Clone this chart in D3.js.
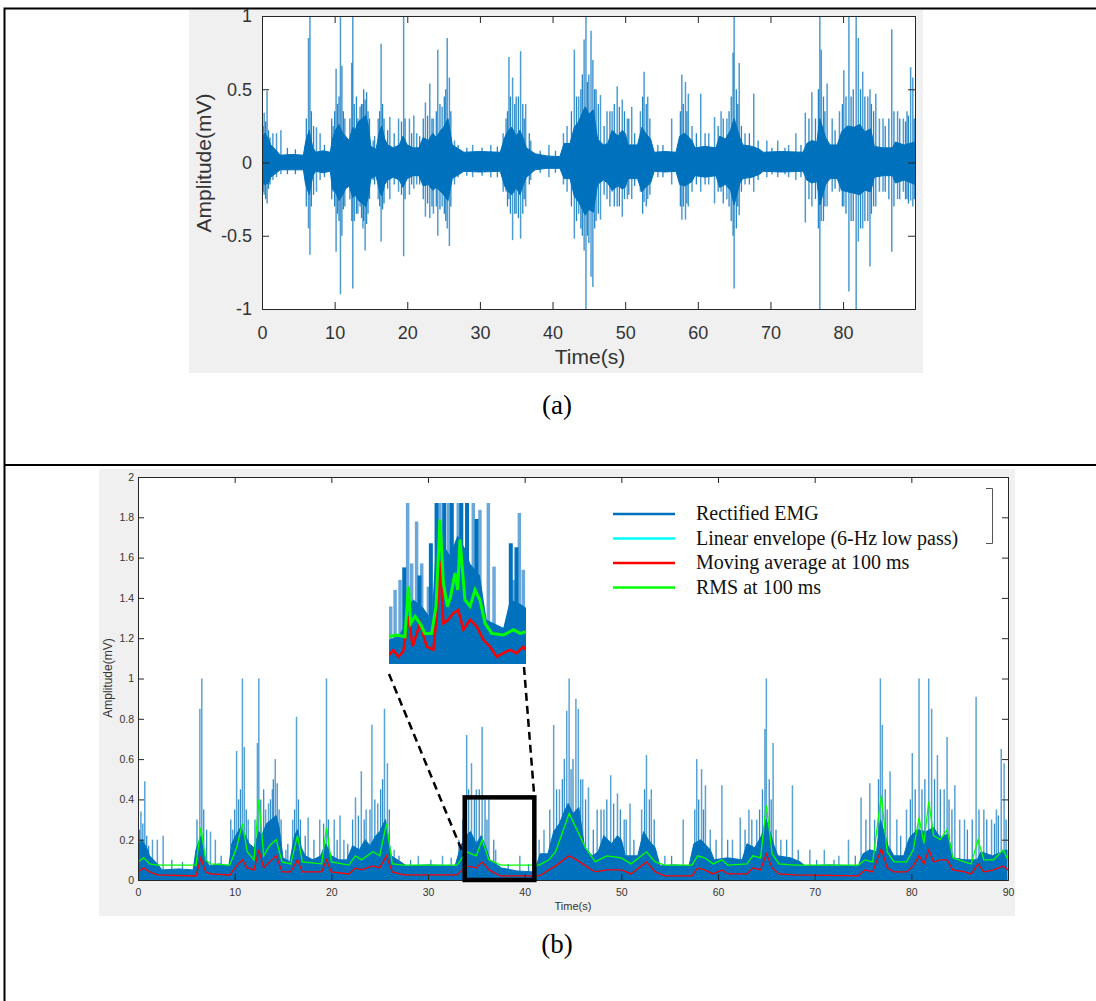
<!DOCTYPE html>
<html>
<head>
<meta charset="utf-8">
<script src="https://cdn.jsdelivr.net/npm/d3@7"></script>
<style>
body { margin: 0; background: #fff; }
</style>
</head>
<body>
<svg id="fig" width="1096" height="1001"></svg>
<script>
// ---- data ----
// (a) raw EMG: tall spikes [time s, positive peak, negative peak] (mV)
const spikesA = [
  [0.3,0.34,-0.22],[0.7,0.49,-0.28],[1.5,0.2,-0.12],[2.0,0.2,-0.1],[2.6,0.22,-0.08],
  [6.4,0.85,-0.45],[6.6,1.0,-0.63],[7.5,0.24,-0.2],[8.0,0.2,-0.12],[9.8,0.25,-0.2],
  [10.2,0.64,-0.61],[10.8,1.0,-0.9],[11.0,0.66,-0.5],[11.4,0.3,-0.3],[12.35,0.68,-0.4],
  [12.5,1.0,-0.86],[13.2,0.3,-0.35],[13.5,0.38,-0.3],[13.9,0.4,-0.45],[14.2,0.43,-0.6],
  [14.6,0.35,-0.35],[15.3,0.15,-0.12],[16.0,0.3,-0.25],[16.4,0.81,-0.54],[17.6,0.31,-0.25],
  [18.8,0.3,-0.2],[19.5,1.0,-0.64],[20.3,0.3,-0.22],[20.9,0.32,-0.18],[21.3,0.2,-0.15],
  [22.5,0.41,-0.37],[23.1,0.54,-0.38],[23.6,0.3,-0.35],[24.2,0.77,-0.5],[24.8,0.38,-0.3],
  [25.5,0.85,-0.45],[25.8,0.58,-0.57],[26.5,0.15,-0.15],[29.0,0.12,-0.1],[31.5,0.12,-0.1],
  [33.2,0.2,-0.2],[33.6,0.3,-0.2],[34.0,0.72,-0.25],[34.5,0.58,-0.53],[35.0,0.45,-0.35],
  [35.6,0.76,-0.52],[36.3,0.4,-0.3],[37.0,0.15,-0.12],[39.5,0.12,-0.1],[41.5,0.2,-0.15],
  [42.0,0.25,-0.2],[43.0,0.77,-0.52],[43.6,0.45,-0.35],[44.35,0.84,-0.6],[44.6,1.0,-1.0],
  [45.3,0.9,-0.78],[45.55,0.7,-0.85],[46.0,0.5,-0.4],[46.6,0.46,-0.39],[47.5,0.35,-0.25],
  [48.2,0.35,-0.2],[48.9,0.52,-0.3],[49.6,0.43,-0.37],[50.3,0.3,-0.25],[50.9,0.38,-0.25],
  [52.1,0.35,-0.2],[52.6,0.62,-0.27],[53.1,0.45,-0.25],[54.5,0.12,-0.1],[56.4,0.3,-0.15],
  [57.8,0.6,-0.39],[58.3,0.55,-0.39],[58.7,0.47,-0.3],[59.2,0.25,-0.2],[60.4,0.47,-0.2],
  [61.5,0.2,-0.15],[62.3,0.31,-0.28],[63.2,0.35,-0.2],[64.0,0.3,-0.25],[64.85,0.75,-0.5],
  [65.0,1.0,-0.86],[65.7,0.68,-0.36],[66.5,0.2,-0.15],[67.7,0.47,-0.2],[69.5,0.15,-0.1],
  [71.0,0.15,-0.1],[72.5,0.12,-0.1],[73.5,0.2,-0.12],[74.8,0.34,-0.41],[75.7,0.48,-0.3],
  [76.8,1.0,-1.0],[77.0,0.77,-0.4],[77.8,0.54,-0.3],[78.5,0.3,-0.2],[79.5,0.35,-0.2],
  [80.1,0.63,-0.3],[80.8,1.0,-0.88],[81.8,1.0,-1.0],[82.1,0.85,-0.54],[82.7,0.62,-0.45],
  [83.4,0.45,-0.4],[83.7,0.5,-0.71],[84.5,0.47,-0.3],[85.0,0.3,-0.2],[85.5,0.3,-0.2],
  [86.7,0.91,-0.61],[87.5,0.35,-0.25],[88.3,0.3,-0.2],[88.8,0.35,-0.25],[89.3,0.65,-0.26],
  [89.6,0.58,-0.3]
];

// (a) shorter spikes that fray the edge of each burst [time s, positive, negative] (mV)
const minorSpikesA = [
  [0.15,0.25,-0.2],[0.5,0.28,-0.25],[0.9,0.22,-0.18],[1.1,0.17,-0.15],[3.5,0.1,-0.08],[4.6,0.09,-0.08],
  [6.1,0.3,-0.3],[6.8,0.35,-0.3],[7.1,0.25,-0.22],[8.6,0.12,-0.1],
  [9.6,0.3,-0.25],[10.0,0.35,-0.3],[10.4,0.4,-0.35],[10.6,0.45,-0.4],[11.2,0.35,-0.32],
  [12.1,0.3,-0.25],[12.7,0.4,-0.4],[13.0,0.45,-0.35],[13.7,0.4,-0.38],[14.0,0.5,-0.4],
  [14.4,0.48,-0.42],[14.8,0.3,-0.25],[15.5,0.18,-0.15],
  [16.2,0.35,-0.3],[16.6,0.4,-0.32],[16.8,0.3,-0.28],[17.3,0.22,-0.18],[18.2,0.2,-0.15],
  [19.2,0.28,-0.22],[19.7,0.3,-0.25],[20.6,0.2,-0.15],[21.7,0.18,-0.15],
  [22.2,0.3,-0.25],[22.8,0.32,-0.28],[23.4,0.3,-0.3],[24.0,0.35,-0.3],[24.5,0.4,-0.32],
  [25.1,0.45,-0.35],[25.3,0.5,-0.4],[26.0,0.35,-0.3],[27.0,0.12,-0.1],[28.2,0.1,-0.09],
  [30.3,0.1,-0.09],[32.4,0.11,-0.1],
  [33.8,0.35,-0.3],[34.2,0.45,-0.35],[34.8,0.4,-0.35],[35.3,0.45,-0.38],[35.9,0.4,-0.35],
  [36.1,0.3,-0.25],[36.8,0.2,-0.15],[38.3,0.08,-0.07],[40.4,0.08,-0.07],
  [42.6,0.35,-0.3],[43.3,0.45,-0.4],[43.9,0.5,-0.45],[44.1,0.6,-0.5],[44.8,0.55,-0.5],
  [45.0,0.6,-0.55],[45.8,0.5,-0.45],[46.3,0.4,-0.35],[47.1,0.25,-0.22],
  [47.9,0.35,-0.3],[48.5,0.4,-0.3],[49.2,0.38,-0.3],[49.9,0.35,-0.25],[50.5,0.3,-0.22],
  [51.3,0.2,-0.16],[52.4,0.45,-0.35],[52.9,0.4,-0.3],[53.4,0.3,-0.22],[55.2,0.12,-0.1],
  [57.6,0.35,-0.3],[58.0,0.4,-0.3],[58.5,0.35,-0.28],[59.8,0.2,-0.15],[61.0,0.2,-0.15],
  [62.8,0.25,-0.2],[63.5,0.3,-0.28],[64.3,0.35,-0.3],[64.6,0.45,-0.4],[65.3,0.5,-0.45],
  [65.5,0.4,-0.3],[66.0,0.25,-0.2],[67.1,0.2,-0.15],[68.3,0.15,-0.12],[70.2,0.1,-0.08],
  [72.0,0.1,-0.08],[74.2,0.12,-0.1],
  [75.3,0.3,-0.25],[76.2,0.3,-0.25],[76.6,0.5,-0.45],[77.3,0.45,-0.4],[77.5,0.35,-0.3],
  [78.9,0.22,-0.18],[79.9,0.4,-0.3],[80.4,0.45,-0.35],[81.1,0.45,-0.4],[81.4,0.5,-0.4],
  [82.4,0.5,-0.45],[83.0,0.45,-0.4],[83.9,0.4,-0.35],[84.2,0.35,-0.3],
  [85.8,0.25,-0.2],[86.3,0.3,-0.25],[87.0,0.35,-0.3],[87.8,0.3,-0.25],[88.6,0.28,-0.25],
  [89.0,0.32,-0.28],[89.8,0.3,-0.25]
];

// (a) dense core of the raw EMG [time s, upper edge, lower edge magnitude] (mV)
const coreA = [
  [0,0.17,0.14],[0.4,0.2,0.15],[0.9,0.16,0.14],[1.2,0.12,0.1],[2.0,0.08,0.07],[2.5,0.05,0.05],
  [4.2,0.055,0.05],[5.7,0.05,0.05],[6.0,0.14,0.15],[6.5,0.22,0.22],[7.0,0.1,0.09],[7.4,0.07,0.06],
  [8.4,0.08,0.07],[9.4,0.07,0.06],[9.7,0.16,0.18],[10.1,0.22,0.2],[10.6,0.26,0.26],[11.1,0.2,0.22],
  [11.5,0.18,0.18],[12.0,0.15,0.16],[12.5,0.24,0.24],[12.8,0.22,0.22],[13.3,0.28,0.26],
  [13.8,0.3,0.28],[14.3,0.32,0.3],[14.6,0.26,0.24],[15.0,0.11,0.11],[15.7,0.09,0.09],
  [16.2,0.22,0.2],[16.5,0.25,0.23],[16.9,0.16,0.15],[17.3,0.12,0.12],[18.1,0.1,0.1],[18.9,0.12,0.12],
  [19.4,0.18,0.17],[20.0,0.12,0.11],[20.8,0.1,0.09],[21.6,0.1,0.09],[22.2,0.17,0.16],[22.9,0.15,0.15],
  [23.5,0.2,0.19],[24.0,0.17,0.17],[24.6,0.22,0.2],[25.0,0.24,0.22],[25.6,0.3,0.26],[26.2,0.12,0.11],
  [27.8,0.07,0.06],[30.0,0.075,0.065],[32.8,0.07,0.06],[33.4,0.17,0.16],[33.9,0.22,0.2],
  [34.4,0.24,0.22],[35.0,0.18,0.17],[35.5,0.22,0.22],[36.0,0.16,0.15],[36.4,0.1,0.1],[37.6,0.06,0.05],
  [39.2,0.045,0.04],[41.0,0.04,0.04],[41.6,0.13,0.11],[42.4,0.13,0.11],[43.0,0.24,0.23],
  [43.6,0.28,0.27],[44.1,0.34,0.32],[44.5,0.38,0.36],[45.0,0.33,0.32],[45.6,0.36,0.34],[46.2,0.16,0.15],
  [47.0,0.12,0.12],[47.6,0.13,0.14],[48.2,0.22,0.19],[49.0,0.18,0.16],[49.6,0.22,0.18],[50.0,0.2,0.17],
  [50.4,0.12,0.11],[51.7,0.12,0.11],[52.3,0.24,0.2],[52.8,0.2,0.17],[53.5,0.16,0.14],[54.0,0.07,0.06],
  [55.5,0.075,0.065],[57.0,0.07,0.06],[57.5,0.18,0.15],[58.2,0.2,0.16],[59.2,0.15,0.13],
  [59.6,0.1,0.09],[61.0,0.11,0.1],[62.5,0.1,0.09],[63.0,0.18,0.17],[63.8,0.16,0.15],[64.5,0.22,0.19],
  [65.0,0.3,0.29],[65.8,0.17,0.14],[66.2,0.12,0.11],[67.5,0.11,0.1],[68.5,0.09,0.08],[69.0,0.07,0.06],
  [71.5,0.075,0.065],[74.5,0.07,0.06],[75.0,0.13,0.12],[75.7,0.15,0.14],[76.4,0.14,0.13],
  [76.8,0.3,0.29],[77.6,0.17,0.15],[78.2,0.12,0.11],[79.2,0.12,0.11],[79.8,0.21,0.19],
  [80.6,0.25,0.2],[81.5,0.24,0.21],[82.3,0.26,0.22],[83.0,0.21,0.19],[83.8,0.23,0.2],[84.3,0.11,0.1],
  [85.5,0.1,0.09],[86.8,0.1,0.09],[87.2,0.14,0.14],[88.4,0.12,0.12],[89.9,0.14,0.15]
];

// (b) smoothed curves [time s, moving average, RMS] (mV)
const smoothB = [
  [0,0.04,0.09],[0.6,0.06,0.11],[1.2,0.04,0.08],[2.0,0.025,0.074],[6.0,0.02,0.074],[6.5,0.11,0.26],
  [7.0,0.04,0.1],[7.5,0.03,0.08],[9.5,0.025,0.074],[10.2,0.07,0.16],[10.8,0.1,0.28],[11.3,0.06,0.14],
  [12.0,0.05,0.1],[12.5,0.15,0.4],[13.0,0.06,0.12],[13.6,0.09,0.17],[14.3,0.12,0.2],[14.9,0.04,0.09],
  [15.8,0.04,0.08],[16.5,0.1,0.22],[17.0,0.04,0.09],[19.0,0.04,0.08],[19.5,0.1,0.26],[20.0,0.04,0.09],
  [21.8,0.03,0.074],[22.5,0.06,0.12],[23.1,0.05,0.1],[24.3,0.07,0.14],[25.0,0.06,0.12],[25.7,0.12,0.28],
  [26.3,0.04,0.08],[27.5,0.025,0.074],[33.0,0.025,0.074],[34.0,0.07,0.14],[35.0,0.06,0.12],[35.6,0.09,0.2],
  [36.3,0.05,0.1],[37.5,0.02,0.074],[41.5,0.02,0.074],[42.5,0.05,0.1],[43.2,0.07,0.14],[44.6,0.12,0.33],
  [45.4,0.1,0.25],[46.3,0.07,0.16],[47.3,0.04,0.09],[48.5,0.05,0.12],[50.0,0.05,0.11],[51.0,0.03,0.08],
  [52.6,0.09,0.14],[53.5,0.04,0.09],[54.5,0.02,0.074],[57.3,0.02,0.074],[57.9,0.06,0.12],[58.6,0.05,0.11],
  [59.5,0.03,0.08],[60.4,0.05,0.1],[61.0,0.03,0.074],[63.0,0.03,0.08],[63.6,0.06,0.12],[64.4,0.05,0.11],
  [65.0,0.13,0.37],[65.6,0.06,0.13],[66.3,0.03,0.08],[68.0,0.025,0.074],[74.5,0.02,0.074],[75.2,0.05,0.1],
  [76.0,0.04,0.09],[76.9,0.155,0.42],[77.5,0.06,0.14],[78.2,0.04,0.09],[79.5,0.04,0.09],[80.2,0.07,0.15],
  [80.8,0.12,0.31],[81.3,0.08,0.18],[81.8,0.15,0.39],[82.3,0.09,0.22],[83.0,0.1,0.2],[83.7,0.1,0.25],
  [84.3,0.05,0.11],[85.5,0.04,0.09],[86.2,0.03,0.08],[86.9,0.08,0.2],[87.5,0.04,0.1],[88.5,0.05,0.1],
  [89.5,0.07,0.15],[90.0,0.05,0.1]
];

// (b) linear envelope (lies under the rectified signal) [time s, mV]
const envB = [[0,0.01],[12.5,0.02],[19.5,0.015],[45,0.02],[65,0.02],[77,0.025],[81.8,0.02],[90,0.01]];

// (b) inset, zoom of 33.8-41 s
const insetCore = [
  [33.8,0.06],[34.3,0.07],[34.55,0.09],[34.76,0.14],[35.08,0.16],[35.6,0.14],[36.04,0.11],[36.22,0.26],
  [36.6,0.3],[37.0,0.27],[37.4,0.32],[37.88,0.28],[38.06,0.25],[38.58,0.22],[38.93,0.11],[39.81,0.09],
  [40.16,0.16],[40.69,0.15],[41.0,0.14]
];
const insetColumns = [
  [34.6,0.24],[35.4,0.22],[36.0,0.3],[36.3,0.4],[36.7,0.4],[37.1,0.4],[37.6,0.4],[37.9,0.4],
  [38.4,0.36],[40.2,0.3],[40.5,0.29]
];
const insetSpikes = [
  [33.89,0.143],[34.12,0.184],[34.38,0.209],[34.78,0.4],[34.99,0.25],[35.25,0.354],[35.52,0.25],
  [35.87,0.192],[36.48,0.4],[36.92,0.4],[37.44,0.4],[38.23,0.4],[38.58,0.383],[39.02,0.4],
  [39.32,0.242],[40.34,0.209],[40.65,0.375],[40.86,0.234]
];
const insetMov = [
  [33.8,0.022],[34.03,0.035],[34.29,0.018],[34.55,0.031],[34.82,0.118],[35.04,0.043],[35.43,0.101],
  [35.78,0.043],[36.13,0.035],[36.31,0.118],[36.48,0.255],[36.66,0.101],[36.92,0.11],[37.18,0.126],
  [37.44,0.134],[37.71,0.085],[38.06,0.11],[38.41,0.093],[38.76,0.06],[39.11,0.043],[39.46,0.018],
  [39.81,0.027],[40.16,0.035],[40.51,0.027],[40.86,0.043],[41.0,0.035]
];
const insetRms = [
  [33.8,0.068],[34.2,0.072],[34.64,0.068],[34.82,0.193],[34.94,0.101],[35.17,0.118],[35.43,0.101],
  [35.69,0.076],[36.04,0.076],[36.27,0.143],[36.48,0.359],[36.66,0.2],[36.87,0.143],[37.04,0.168],
  [37.27,0.226],[37.41,0.184],[37.53,0.309],[37.79,0.159],[38.06,0.143],[38.32,0.184],[38.58,0.159],
  [38.85,0.101],[39.2,0.076],[39.81,0.072],[40.34,0.085],[40.69,0.076],[41.0,0.08]
];

const ticksAx = [0, 10, 20, 30, 40, 50, 60, 70, 80];
const ticksAy = [-1, -0.5, 0, 0.5, 1];
const ticksBx = [0, 10, 20, 30, 40, 50, 60, 70, 80, 90];
const ticksBy = [0, 0.2, 0.4, 0.6, 0.8, 1, 1.2, 1.4, 1.6, 1.8, 2];
const legendNames = ["Rectified EMG", "Linear envelope (6-Hz low pass)", "Moving average at 100 ms", "RMS at 100 ms"];
const legendColors = ["#0072BD", "#00FFFF", "#FF0000", "#00FF00"];
const zoomWindow = [33.8, 41, 0.41];

const blue = "#0072BD";
const sans = "'Liberation Sans', Arial, sans-serif";
const serif = "'Liberation Serif', 'Times New Roman', serif";

const svg = d3.select("#fig");

// table frame
svg.append("path")
    .attr("d", "M4.5,1001V8.5H1096M4.5,465H1096")
    .attr("fill", "none")
    .attr("stroke", "#000")
    .attr("stroke-width", 2);

function frame(g, x, y, xt, yt, fs, padX, padY, tick) {
    const fmt = d => String(d);
    g.append("g").attr("transform", `translate(0,${y.range()[0]})`)
        .call(d3.axisBottom(x).tickValues(xt).tickSize(-tick).tickPadding(padX).tickFormat(fmt));
    g.append("g").attr("transform", `translate(0,${y.range()[1]})`)
        .call(d3.axisTop(x).tickValues(xt).tickSize(-tick).tickFormat(""));
    g.append("g").attr("transform", `translate(${x.range()[0]},0)`)
        .call(d3.axisLeft(y).tickValues(yt).tickSize(-tick).tickPadding(padY).tickFormat(fmt));
    g.append("g").attr("transform", `translate(${x.range()[1]},0)`)
        .call(d3.axisRight(y).tickValues(yt).tickSize(-tick).tickFormat(""));
    g.selectAll(".domain, .tick line").attr("stroke", "#262626");
    g.selectAll(".tick text")
        .attr("fill", "#333")
        .attr("font-size", fs)
        .attr("font-family", sans);
}

function spikes(g, rows, x, y0, y1, opacity, width) {
    g.append("g")
        .selectAll("line")
        .data(rows)
        .enter()
        .append("line")
        .attr("x1", d => x(d[0]))
        .attr("x2", d => x(d[0]))
        .attr("y1", y0)
        .attr("y2", y1)
        .attr("stroke", blue)
        .attr("stroke-opacity", opacity)
        .attr("stroke-width", width);
}

// ---------- panel (a) ----------
const ga = svg.append("g");
ga.append("rect").attr("x", 189).attr("y", 10).attr("width", 734).attr("height", 363).attr("fill", "#f0f0f0");

const xa = d3.scaleLinear().domain([0, 89.9]).range([262, 915]);
const ya = d3.scaleLinear().domain([-1, 1]).range([309, 16]);

ga.append("rect").attr("x", 262).attr("y", 16).attr("width", 653).attr("height", 293).attr("fill", "#fff");
svg.append("clipPath").attr("id", "clipA")
    .append("rect").attr("x", 262).attr("y", 16).attr("width", 653).attr("height", 293);

const plotA = ga.append("g").attr("clip-path", "url(#clipA)");
spikes(plotA, spikesA, xa, d => ya(d[2]), d => ya(d[1]), 0.7, 1.5);
spikes(plotA, minorSpikesA, xa, d => ya(d[2]), d => ya(d[1]), 0.85, 1.3);

plotA.append("path")
    .datum(coreA)
    .attr("fill", blue)
    .attr("stroke", blue)
    .attr("stroke-width", 1)
    .attr("d", d3.area().x(d => xa(d[0])).y0(d => ya(-d[2])).y1(d => ya(d[1])));

frame(ga, xa, ya, ticksAx, ticksAy, "18px", 17, 10, 7);

ga.append("text")
    .attr("transform", "translate(211,163) rotate(-90)")
    .attr("text-anchor", "middle")
    .attr("font-family", sans)
    .attr("font-size", "21px")
    .attr("fill", "#333")
    .text("Amplitude(mV)");
ga.append("text")
    .attr("x", 590).attr("y", 364)
    .attr("text-anchor", "middle")
    .attr("font-family", sans)
    .attr("font-size", "21px")
    .attr("fill", "#333")
    .text("Time(s)");

svg.append("text")
    .attr("x", 557).attr("y", 414)
    .attr("text-anchor", "middle")
    .attr("font-family", serif)
    .attr("font-size", "27px")
    .text("(a)");

// ---------- panel (b) ----------
const gb = svg.append("g");
gb.append("rect").attr("x", 99).attr("y", 469).attr("width", 916).attr("height", 447).attr("fill", "#f0f0f0");

const xb = d3.scaleLinear().domain([0, 90]).range([138, 1008]);
const yb = d3.scaleLinear().domain([0, 2]).range([880, 477]);

gb.append("rect").attr("x", 138).attr("y", 477).attr("width", 870).attr("height", 403).attr("fill", "#fff");
svg.append("clipPath").attr("id", "clipB")
    .append("rect").attr("x", 138).attr("y", 477).attr("width", 870).attr("height", 403);

const plotB = gb.append("g").attr("clip-path", "url(#clipB)");

plotB.append("path")
    .datum(envB)
    .attr("fill", "none")
    .attr("stroke", "#00FFFF")
    .attr("stroke-width", 1.2)
    .attr("d", d3.line().x(d => xb(d[0])).y(d => yb(d[1])));

const rect = d => Math.min(1, Math.max(d[1], -d[2]));
spikes(plotB, spikesA, xb, yb(0), d => yb(rect(d)), 0.65, 1.5);
spikes(plotB, minorSpikesA, xb, yb(0), d => yb(rect(d)), 0.8, 1.3);

plotB.append("path")
    .datum(coreA)
    .attr("fill", blue)
    .attr("stroke", blue)
    .attr("stroke-width", 1)
    .attr("d", d3.area().x(d => xb(d[0])).y0(yb(0)).y1(d => yb(Math.max(d[1], d[2]))));

plotB.append("path")
    .datum(smoothB)
    .attr("fill", "none")
    .attr("stroke", "#FF0000")
    .attr("stroke-width", 1.3)
    .attr("d", d3.line().x(d => xb(d[0])).y(d => yb(d[1])));

plotB.append("path")
    .datum(smoothB)
    .attr("fill", "none")
    .attr("stroke", "#00FF00")
    .attr("stroke-width", 1.3)
    .attr("d", d3.line().x(d => xb(d[0])).y(d => yb(d[2])));

frame(gb, xb, yb, ticksBx, ticksBy, "10.5px", 9, 4, 6);

gb.append("text")
    .attr("transform", "translate(112,678) rotate(-90)")
    .attr("text-anchor", "middle")
    .attr("font-family", sans)
    .attr("font-size", "12px")
    .attr("fill", "#333")
    .text("Amplitude(mV)");
gb.append("text")
    .attr("x", 573).attr("y", 910)
    .attr("text-anchor", "middle")
    .attr("font-family", sans)
    .attr("font-size", "11px")
    .attr("fill", "#333")
    .text("Time(s)");

// legend
const leg = gb.append("g");
legendNames.forEach((name, i) => {
    const yy = 514 + i * 24.5;
    leg.append("line")
        .attr("x1", 613).attr("x2", 675)
        .attr("y1", yy).attr("y2", yy)
        .attr("stroke", legendColors[i])
        .attr("stroke-width", 2.5);
    leg.append("text")
        .attr("x", 696).attr("y", yy + 6)
        .attr("font-family", serif)
        .attr("font-size", "20px")
        .attr("fill", "#111")
        .text(name);
});
leg.append("path")
    .attr("d", "M986,488.5H992.5V543.5H986")
    .attr("fill", "none")
    .attr("stroke", "#555")
    .attr("stroke-width", 1);

// zoom box and connectors
const [z0, z1, zTop] = zoomWindow;
gb.append("rect")
    .attr("x", xb(z0)).attr("y", yb(zTop))
    .attr("width", xb(z1) - xb(z0))
    .attr("height", yb(0) - yb(zTop))
    .attr("fill", "none")
    .attr("stroke", "#000")
    .attr("stroke-width", 4.5);

const inset = { x: 389, y: 503, w: 137, h: 161 };
gb.append("line")
    .attr("x1", inset.x).attr("y1", inset.y + inset.h + 10)
    .attr("x2", xb(z0 + 0.1)).attr("y2", yb(0.1))
    .attr("stroke", "#000").attr("stroke-width", 2.5).attr("stroke-dasharray", "8,5");
gb.append("line")
    .attr("x1", inset.x + inset.w - 2).attr("y1", inset.y + inset.h + 3)
    .attr("x2", xb(z1)).attr("y2", yb(zTop))
    .attr("stroke", "#000").attr("stroke-width", 2.5).attr("stroke-dasharray", "8,5");

// inset
const xi = d3.scaleLinear().domain([z0, z1]).range([inset.x, inset.x + inset.w]);
const yi = d3.scaleLinear().domain([0, 0.4]).range([inset.y + inset.h, inset.y]);
svg.append("clipPath").attr("id", "clipI")
    .append("rect").attr("x", inset.x).attr("y", inset.y).attr("width", inset.w).attr("height", inset.h);
const gi = gb.append("g").attr("clip-path", "url(#clipI)");

gi.selectAll("line.light")
    .data(insetSpikes)
    .enter()
    .append("line")
    .attr("x1", d => xi(d[0]))
    .attr("x2", d => xi(d[0]))
    .attr("y1", yi(0))
    .attr("y2", d => yi(d[1]))
    .attr("stroke", "#6aa8db")
    .attr("stroke-width", 3.5);
gi.selectAll("line.dark")
    .data(insetColumns)
    .enter()
    .append("line")
    .attr("x1", d => xi(d[0]))
    .attr("x2", d => xi(d[0]))
    .attr("y1", yi(0))
    .attr("y2", d => yi(d[1]))
    .attr("stroke", blue)
    .attr("stroke-width", 4);
gi.append("path")
    .datum(insetCore)
    .attr("fill", blue)
    .attr("d", d3.area().x(d => xi(d[0])).y0(yi(0)).y1(d => yi(d[1])));
gi.append("path")
    .datum(insetMov)
    .attr("fill", "none")
    .attr("stroke", "#FF0000")
    .attr("stroke-width", 2.5)
    .attr("d", d3.line().x(d => xi(d[0])).y(d => yi(d[1])));
gi.append("path")
    .datum(insetRms)
    .attr("fill", "none")
    .attr("stroke", "#00FF00")
    .attr("stroke-width", 3)
    .attr("d", d3.line().x(d => xi(d[0])).y(d => yi(d[1])));

svg.append("text")
    .attr("x", 557).attr("y", 953)
    .attr("text-anchor", "middle")
    .attr("font-family", serif)
    .attr("font-size", "27px")
    .text("(b)");
</script>
</body>
</html>
